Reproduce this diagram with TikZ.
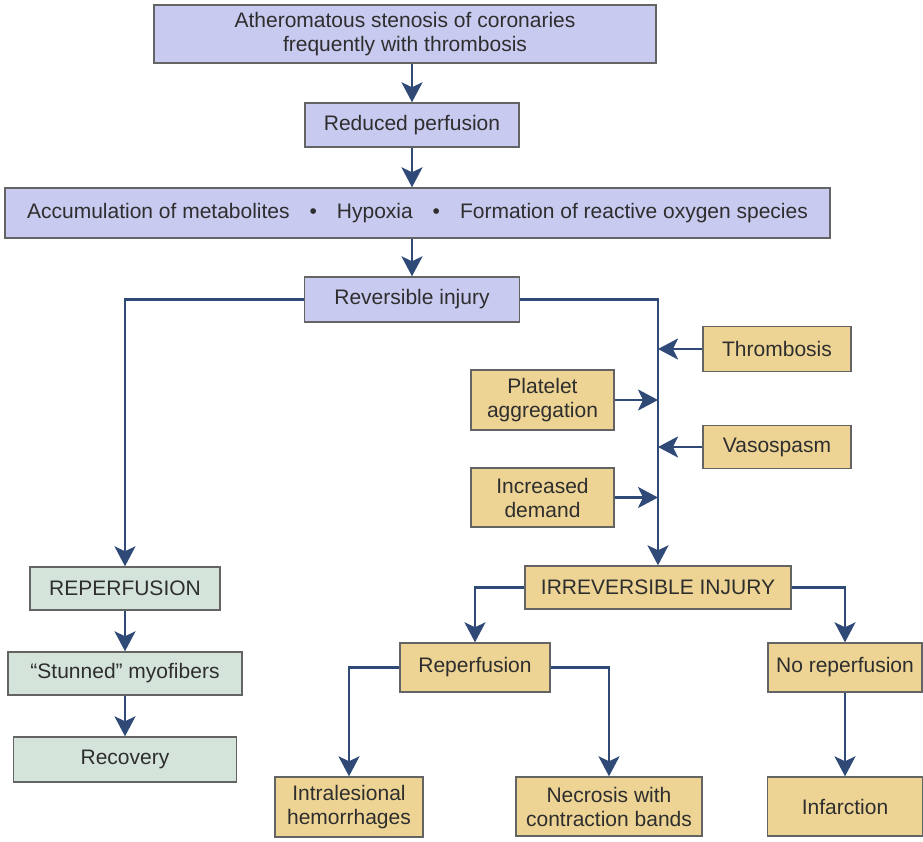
\documentclass[tikz,border=0pt]{standalone}
\usepackage{fontspec}
\setmainfont{Liberation Sans}
\usetikzlibrary{arrows.meta}
\definecolor{bluefill}{RGB}{201,202,240}
\definecolor{tanfill}{RGB}{237,212,148}
\definecolor{greenfill}{RGB}{213,228,219}
\definecolor{boxline}{RGB}{100,100,100}
\definecolor{flow}{RGB}{48,74,120}
\tikzset{
  box/.style={draw=boxline, line width=1.4pt, inner sep=0pt, align=center,
    font=\fontsize{21}{24}\selectfont, text=black!82},
  bluebox/.style={box, fill=bluefill},
  tanbox/.style={box, fill=tanfill},
  greenbox/.style={box, fill=greenfill},
  link/.style={draw=flow, line width=2.6pt,
    -{Stealth[length=20pt,width=21pt,inset=5pt]}},
}
\begin{document}
\begin{tikzpicture}[x=1pt,y=-1pt]
\useasboundingbox (0,0) rectangle (923,842);

% main chain
\node[bluebox, minimum width=502pt, minimum height=58pt] (stenosis) at (405,34)
  {Atheromatous stenosis of coronaries\\frequently with thrombosis};
\node[bluebox, minimum width=214pt, minimum height=44pt] (perf) at (412,125)
  {Reduced perfusion};
\node[bluebox, minimum width=825pt, minimum height=50pt] (metab) at (417.5,213)
  {Accumulation of metabolites\hspace{0.95em}•\hspace{0.95em}Hypoxia\hspace{0.95em}•\hspace{0.95em}Formation of reactive oxygen species};
\node[bluebox, minimum width=215pt, minimum height=45pt] (rev) at (412,299.5)
  {Reversible injury};

% reversible branch
\node[greenbox, minimum width=190pt, minimum height=43pt] (reperf) at (125,588.5)
  {REPERFUSION};
\node[greenbox, minimum width=234pt, minimum height=43pt] (stun) at (125,673.5)
  {“Stunned” myofibers};
\node[greenbox, minimum width=223pt, minimum height=45pt] (recov) at (125,759.5)
  {Recovery};

% contributing factors
\node[tanbox, minimum width=148pt, minimum height=45pt] (thromb) at (777,349)
  {Thrombosis};
\node[tanbox, minimum width=143pt, minimum height=60pt] (plat) at (542.5,400)
  {Platelet\\aggregation};
\node[tanbox, minimum width=148pt, minimum height=43pt] (vaso) at (777,447)
  {Vasospasm};
\node[tanbox, minimum width=143pt, minimum height=59pt] (demand) at (542.5,497.5)
  {Increased\\demand};

% irreversible branch
\node[tanbox, minimum width=266pt, minimum height=43pt] (irr) at (658,587.5)
  {IRREVERSIBLE INJURY};
\node[tanbox, minimum width=150pt, minimum height=49pt] (rep) at (475,667.5)
  {Reperfusion};
\node[tanbox, minimum width=154pt, minimum height=49pt] (norep) at (845,667.5)
  {No reperfusion};
\node[tanbox, minimum width=148pt, minimum height=60pt] (hem) at (349,807)
  {Intralesional\\hemorrhages};
\node[tanbox, minimum width=186pt, minimum height=59pt] (necro) at (609,806.5)
  {Necrosis with\\contraction bands};
\node[tanbox, minimum width=155pt, minimum height=59pt] (infarct) at (845,806.5)
  {Infarction};

% connectors
\draw[link] (stenosis.south -| perf.north) -- (perf.north);
\draw[link] (perf.south) -- (perf.south |- metab.north);
\draw[link] (metab.south -| rev.north) -- (rev.north);
\draw[link] (rev.west) -| (reperf.north);
\draw[link] (reperf) -- (stun);
\draw[link] (stun) -- (recov);
\draw[link] (rev.east) -| (irr.north);
\draw[link] (thromb.west) -- (thromb.west -| irr.north);
\draw[link] (plat.east) -- (plat.east -| irr.north);
\draw[link] (vaso.west) -- (vaso.west -| irr.north);
\draw[link] (demand.east) -- (demand.east -| irr.north);
\draw[link] (irr.west) -| (rep.north);
\draw[link] (irr.east) -| (norep.north);
\draw[link] (rep.west) -| (hem.north);
\draw[link] (rep.east) -| (necro.north);
\draw[link] (norep) -- (infarct);
\end{tikzpicture}
\end{document}
